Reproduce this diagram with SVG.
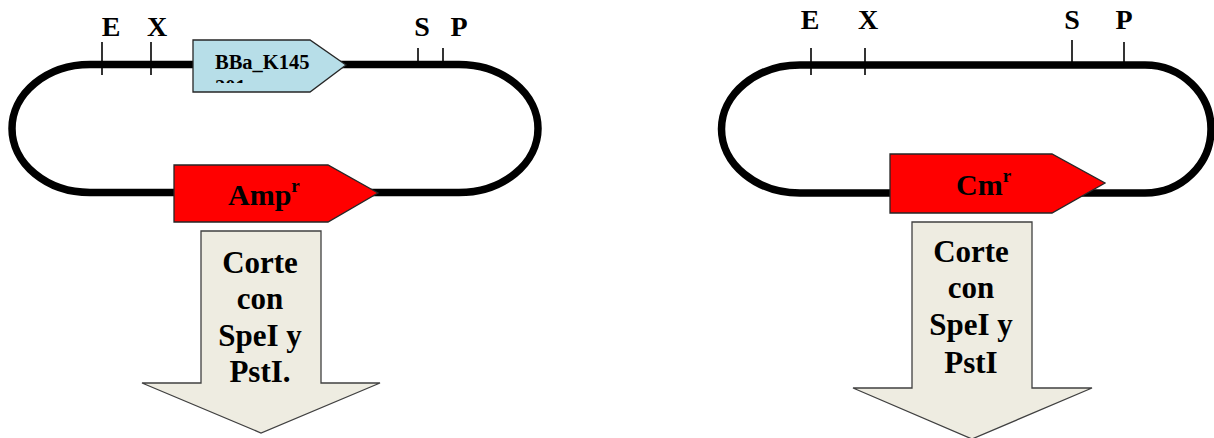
<svg xmlns="http://www.w3.org/2000/svg" width="1214" height="438" viewBox="0 0 1214 438">
  <style>
    .bb { fill: none; stroke: #000; stroke-width: 7.5; }
    .tick { stroke: #000; stroke-width: 1.6; }
    .site { font-family: "Liberation Serif", "Times New Roman", serif; font-weight: bold; font-size: 28px; fill: #000; text-anchor: middle; }
    .gene { stroke: #262626; stroke-width: 1.3; }
    .amp { fill: #FF0000; }
    .part { fill: #B7DEE8; }
    .lbl { font-family: "Liberation Serif", "Times New Roman", serif; font-weight: bold; fill: #000; }
    .step { fill: #EEECE1; stroke: #404040; stroke-width: 1.3; }
    .steptxt { font-family: "Liberation Serif", "Times New Roman", serif; font-weight: bold; font-size: 31px; fill: #000; text-anchor: middle; }
  </style>
  <defs>
    <clipPath id="partClip">
      <rect x="195" y="42" width="140" height="41"/>
    </clipPath>
  </defs>

  <!-- Plasmid 1: backbone with BBa_K145201 insert and ampicillin resistance -->
  <g id="plasmid1">
    <path class="bb" d="M 90 64.5 H 459 A 79 64 0 0 1 459 192.5 H 90 A 78 64 0 0 1 90 64.5 Z"/>
    <g id="sites1">
      <line class="tick" x1="102" y1="42" x2="102" y2="75"/>
      <line class="tick" x1="151" y1="42" x2="151" y2="75"/>
      <line class="tick" x1="418" y1="48" x2="418" y2="64"/>
      <line class="tick" x1="443" y1="48" x2="443" y2="64"/>
      <text class="site" x="111" y="36">E</text>
      <text class="site" x="157" y="36">X</text>
      <text class="site" x="422" y="36">S</text>
      <text class="site" x="459" y="36">P</text>
    </g>
    <g id="part1">
      <polygon class="gene part" points="193,40 310,40 346,65 310,92 193,92"/>
      <g clip-path="url(#partClip)">
        <text class="lbl" x="215" y="69" font-size="20.5">BBa_K145</text>
        <text class="lbl" x="215" y="94" font-size="20.5">201</text>
      </g>
    </g>
    <g id="ampR">
      <polygon class="gene amp" points="174,165 328,165 378,193 328,222 174,222"/>
      <text class="lbl" x="228" y="205" font-size="30">Amp<tspan font-size="19" dy="-13">r</tspan></text>
    </g>
  </g>

  <!-- Plasmid 2: backbone with chloramphenicol resistance -->
  <g id="plasmid2">
    <path class="bb" d="M 800 65 H 1145 A 66 64 0 0 1 1145 193 H 800 A 78.5 64 0 0 1 800 65 Z"/>
    <g id="sites2">
      <line class="tick" x1="811" y1="48" x2="811" y2="75"/>
      <line class="tick" x1="865" y1="48" x2="865" y2="75"/>
      <line class="tick" x1="1072" y1="40" x2="1072" y2="65"/>
      <line class="tick" x1="1124" y1="42" x2="1124" y2="65"/>
      <text class="site" x="810" y="29">E</text>
      <text class="site" x="868" y="29">X</text>
      <text class="site" x="1072" y="29">S</text>
      <text class="site" x="1124" y="29">P</text>
    </g>
    <g id="cmR">
      <polygon class="gene amp" points="890,154 1052,154 1105,183 1052,213 890,213"/>
      <text class="lbl" x="956" y="195" font-size="30">Cm<tspan font-size="19" dy="-13">r</tspan></text>
    </g>
  </g>

  <!-- Digestion steps -->
  <g id="cut1">
    <polygon class="step" points="201,231 321,231 321,383 380,383 261,433 142,383 201,383"/>
    <text class="steptxt" x="260" y="273">Corte</text>
    <text class="steptxt" x="260" y="309">con</text>
    <text class="steptxt" x="260" y="346">SpeI y</text>
    <text class="steptxt" x="260" y="382">PstI.</text>
  </g>
  <g id="cut2">
    <polygon class="step" points="912,222 1032,222 1032,388 1092,388 972,439 853,388 912,388"/>
    <text class="steptxt" x="971" y="262">Corte</text>
    <text class="steptxt" x="971" y="298">con</text>
    <text class="steptxt" x="971" y="335">SpeI y</text>
    <text class="steptxt" x="971" y="373">PstI</text>
  </g>
</svg>
